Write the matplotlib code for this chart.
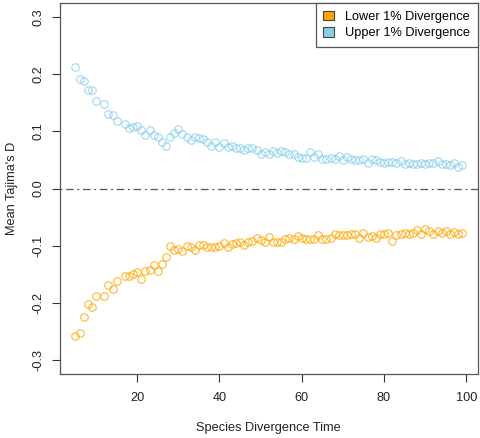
import matplotlib
matplotlib.use('Agg')
import matplotlib.pyplot as plt
from matplotlib.patches import Patch

plt.rcParams['font.family'] = ['Liberation Sans', 'DejaVu Sans']
plt.rcParams['axes.unicode_minus'] = False

# divergence times (11 and 16 have no point in the original)
div_time = [t for t in range(5, 100) if t not in (11, 16)]

upper_d = [0.213, 0.191, 0.188, 0.172, 0.172, 0.153, 0.147, 0.130, 0.128, 0.118,
           0.112, 0.106, 0.107, 0.109, 0.102, 0.093, 0.103, 0.094, 0.090, 0.082,
           0.074, 0.090, 0.097, 0.104, 0.096, 0.090, 0.084, 0.090, 0.088, 0.087,
           0.082, 0.074, 0.082, 0.073, 0.079, 0.072, 0.074, 0.070, 0.0715, 0.067,
           0.0715, 0.0715, 0.068, 0.061, 0.064, 0.060, 0.066, 0.062, 0.066, 0.064,
           0.061, 0.060, 0.055, 0.054, 0.054, 0.063, 0.055, 0.060, 0.051, 0.051,
           0.054, 0.052, 0.056, 0.050, 0.055, 0.052, 0.049, 0.049, 0.051, 0.045,
           0.051, 0.049, 0.047, 0.044, 0.047, 0.046, 0.045, 0.048, 0.042, 0.045,
           0.042, 0.042, 0.045, 0.042, 0.044, 0.045, 0.048, 0.042, 0.042, 0.041,
           0.044, 0.038, 0.041]

lower_d = [-0.258, -0.252, -0.225, -0.202, -0.207, -0.188, -0.188, -0.169, -0.175, -0.161,
           -0.152, -0.152, -0.149, -0.145, -0.158, -0.144, -0.143, -0.133, -0.144, -0.131,
           -0.119, -0.101, -0.108, -0.105, -0.109, -0.101, -0.103, -0.108, -0.098, -0.099,
           -0.103, -0.103, -0.102, -0.101, -0.096, -0.103, -0.097, -0.096, -0.093, -0.099,
           -0.093, -0.092, -0.086, -0.090, -0.093, -0.085, -0.093, -0.093, -0.093, -0.089,
           -0.086, -0.089, -0.083, -0.087, -0.089, -0.089, -0.089, -0.082, -0.089, -0.089,
           -0.087, -0.079, -0.081, -0.081, -0.081, -0.080, -0.080, -0.087, -0.077, -0.085,
           -0.083, -0.086, -0.080, -0.079, -0.077, -0.091, -0.082, -0.080, -0.077, -0.080,
           -0.077, -0.073, -0.079, -0.070, -0.074, -0.080, -0.074, -0.077, -0.074, -0.080,
           -0.076, -0.080, -0.077]

series_names = ['Lower 1% Divergence', 'Upper 1% Divergence']
series_colors = ['#FFA500', '#87CEEB']

x_ticks = [20, 40, 60, 80, 100]
y_ticks = [-0.3, -0.2, -0.1, 0.0, 0.1, 0.2, 0.3]

fs = 9.2
fig = plt.figure(figsize=(4.81, 4.38), dpi=100)
ax = fig.add_axes([60 / 481, 64 / 438, 417.7 / 481, 371 / 438])

ax.axhline(0, color='#555555', lw=0.9, dashes=(1.5, 3, 6, 3), zorder=1)
for ys, col in [(lower_d, series_colors[0]), (upper_d, series_colors[1])]:
    ax.plot(div_time, ys, ls='none', marker='o', ms=5.4, mfc='none',
            mec=col, mew=0.75, alpha=0.85, zorder=2)

ax.set_xlim(1.24, 102.76)
ax.set_ylim(-0.324, 0.324)
ax.set_xticks(x_ticks)
ax.set_yticks(y_ticks)
ax.set_yticklabels(['%.1f' % v for v in y_ticks])
ax.tick_params(axis='both', direction='out', length=5.5, width=0.8,
               color='#333333', labelsize=fs, labelcolor='#222222')
ax.tick_params(axis='x', pad=7.5)
ax.tick_params(axis='y', pad=6, labelrotation=90)
for lab in ax.get_yticklabels():
    lab.set_va('center')
for sp in ax.spines.values():
    sp.set_color('#555555')
    sp.set_linewidth(0.9)

ax.set_xlabel('Species Divergence Time', fontsize=fs, color='#222222', labelpad=13)
ax.set_ylabel("Mean Tajima's D", fontsize=fs, color='#222222', labelpad=10)

handles = [Patch(facecolor=c, edgecolor='#444444', lw=0.8) for c in series_colors]
leg = ax.legend(handles, series_names, loc='upper right', borderaxespad=0,
                fontsize=fs, fancybox=False, framealpha=1, edgecolor='#555555',
                handlelength=0.8, handleheight=0.8, handletextpad=0.9,
                borderpad=0.6, labelspacing=0.3)
leg.get_frame().set_linewidth(0.9)

fig.savefig('out.png', dpi=100)
